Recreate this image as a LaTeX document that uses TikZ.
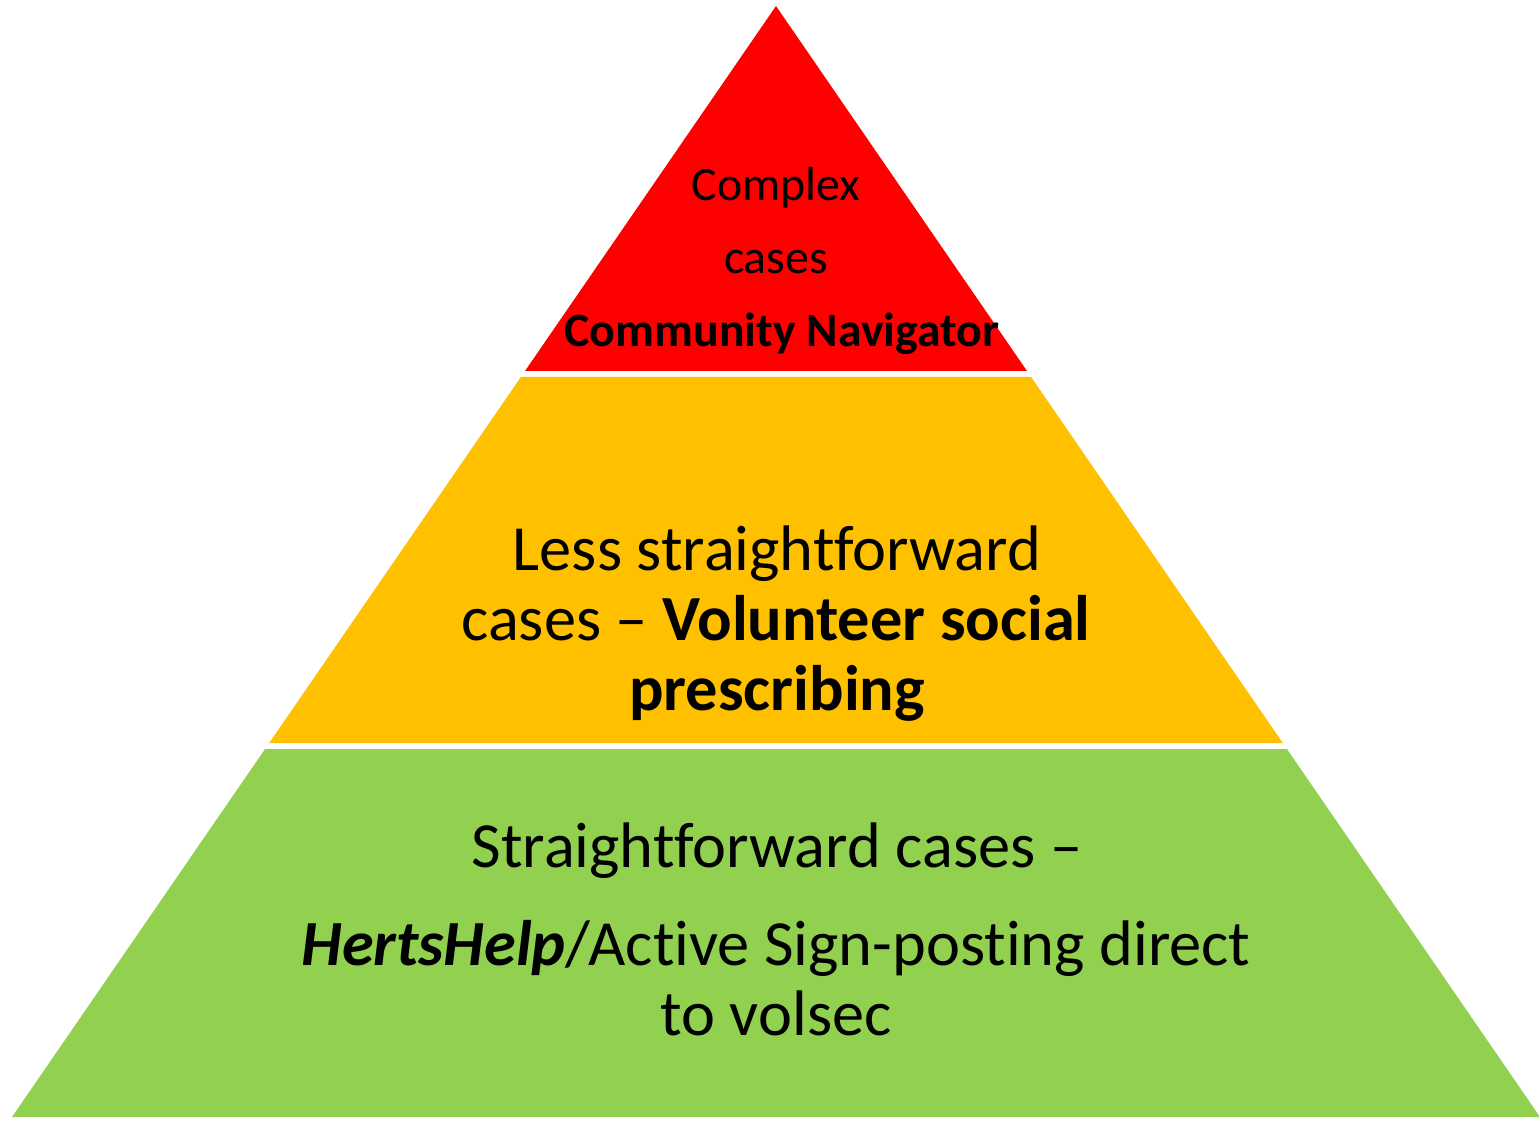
\documentclass[tikz,border=0pt]{standalone}
\usepackage{fontspec}
\setmainfont{Carlito}[Ligatures=CommonOff]
\usetikzlibrary{calc}
\definecolor{toplayer}{HTML}{FF0000}
\definecolor{midlayer}{HTML}{FFC000}
\definecolor{lowlayer}{HTML}{92D050}
\tikzset{
  smalltext/.style={anchor=base, inner sep=0pt, font=\fontsize{13.6}{16}\selectfont},
  bigtext/.style={anchor=base, inner sep=0pt, font=\fontsize{18.3}{21}\selectfont}
}

\begin{document}
\begin{tikzpicture}[x=0.01cm, y=-0.01cm]
			%%%%% START %%%%%
			\useasboundingbox (0, 0) rectangle (1539, 1120);
			
			\coordinate (apex) at (776, 6);
			\coordinate (bl) at (12, 1117);
			\coordinate (br) at (1540, 1117);
			
			% red top
			\fill[toplayer] (apex) -- ($(apex)!0.3285!(br)$) -- ($(apex)!0.3285!(bl)$) -- cycle;
			
			% yellow middle
			\fill[midlayer] ($(apex)!0.3339!(bl)$) -- ($(apex)!0.3339!(br)$) -- ($(apex)!0.6634!(br)$) -- ($(apex)!0.6634!(bl)$) -- cycle;
			
			% green bottom
			\fill[lowlayer] ($(apex)!0.6688!(bl)$) -- ($(apex)!0.6688!(br)$) -- (br) -- (bl) -- cycle;
			
			\node[smalltext] (complex) at (776, 200) {Complex};
			\node[smalltext] (complexcases) at (776, 273) {cases};
			\node[smalltext] (navigator) at (782, 346) {\textbf{Community Navigator}};
			
			\node[bigtext] (lessline) at (777, 570) {Less straightforward};
			\node[bigtext] (volline) at (776, 640) {cases -- \textbf{Volunteer social}};
			\node[bigtext] (prescline) at (777, 710) {\textbf{prescribing}};
			
			\node[bigtext] (straightline) at (777, 867) {Straightforward cases --};
			\node[bigtext] (hertsline) at (776, 965) {\textbf{\textit{HertsHelp}}/Active Sign-posting direct};
			\node[bigtext] (volsecline) at (776, 1035) {to volsec};
			
			%%%%% END %%%%%
		\end{tikzpicture}
\end{document}
